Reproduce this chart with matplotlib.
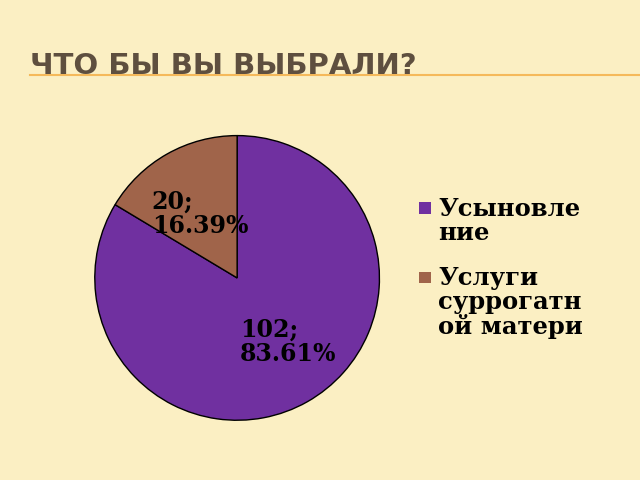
import matplotlib.pyplot as plt
from matplotlib.patches import Rectangle

labels = ['Усыновле\nние', 'Услуги\nсуррогатн\nой матери']
values = [102, 20]
colors = ['#7030A0', '#A0644A']

fig = plt.figure(figsize=(6.4, 4.8), dpi=100)
fig.patch.set_facecolor('#FBEFC3')

# title and rule under it
fig.text(0.047, 0.845, 'ЧТО БЫ ВЫ ВЫБРАЛИ?', fontsize=21, fontweight='bold',
         color='#5E4F3F', family='DejaVu Sans', fontstretch='expanded')
fig.add_artist(plt.Line2D([0.047, 1.0], [0.843, 0.843], color='#F5B95A', lw=1.5))

ax = fig.add_axes([0.147, 0.123, 0.447, 0.596])
wedges, _ = ax.pie(values, colors=colors, startangle=90, counterclock=False,
                   wedgeprops=dict(edgecolor='black', linewidth=1))
ax.set_xlim(-1.005, 1.005)
ax.set_ylim(-1.005, 1.005)
ax.set_aspect('equal')

total = sum(values)
pos = [(0.02, -0.45), (-0.6, 0.45)]
for v, (x, y) in zip(values, pos):
    ax.text(x, y, f'{v};\n{v / total * 100:.2f}%', fontsize=17, fontweight='bold',
            family='DejaVu Serif', va='center', ha='left', linespacing=1.0)

# legend
for i, (lab, c) in enumerate(zip(labels, colors)):
    y = 0.555 - i * 0.145
    fig.add_artist(Rectangle((0.655, y), 0.018, 0.024, facecolor=c,
                             edgecolor='none', transform=fig.transFigure))
    fig.text(0.685, y + 0.035, lab, fontsize=17.5, fontweight='bold',
             family='DejaVu Serif', va='top', linespacing=1.0)

fig.savefig('out.png', facecolor=fig.get_facecolor())
